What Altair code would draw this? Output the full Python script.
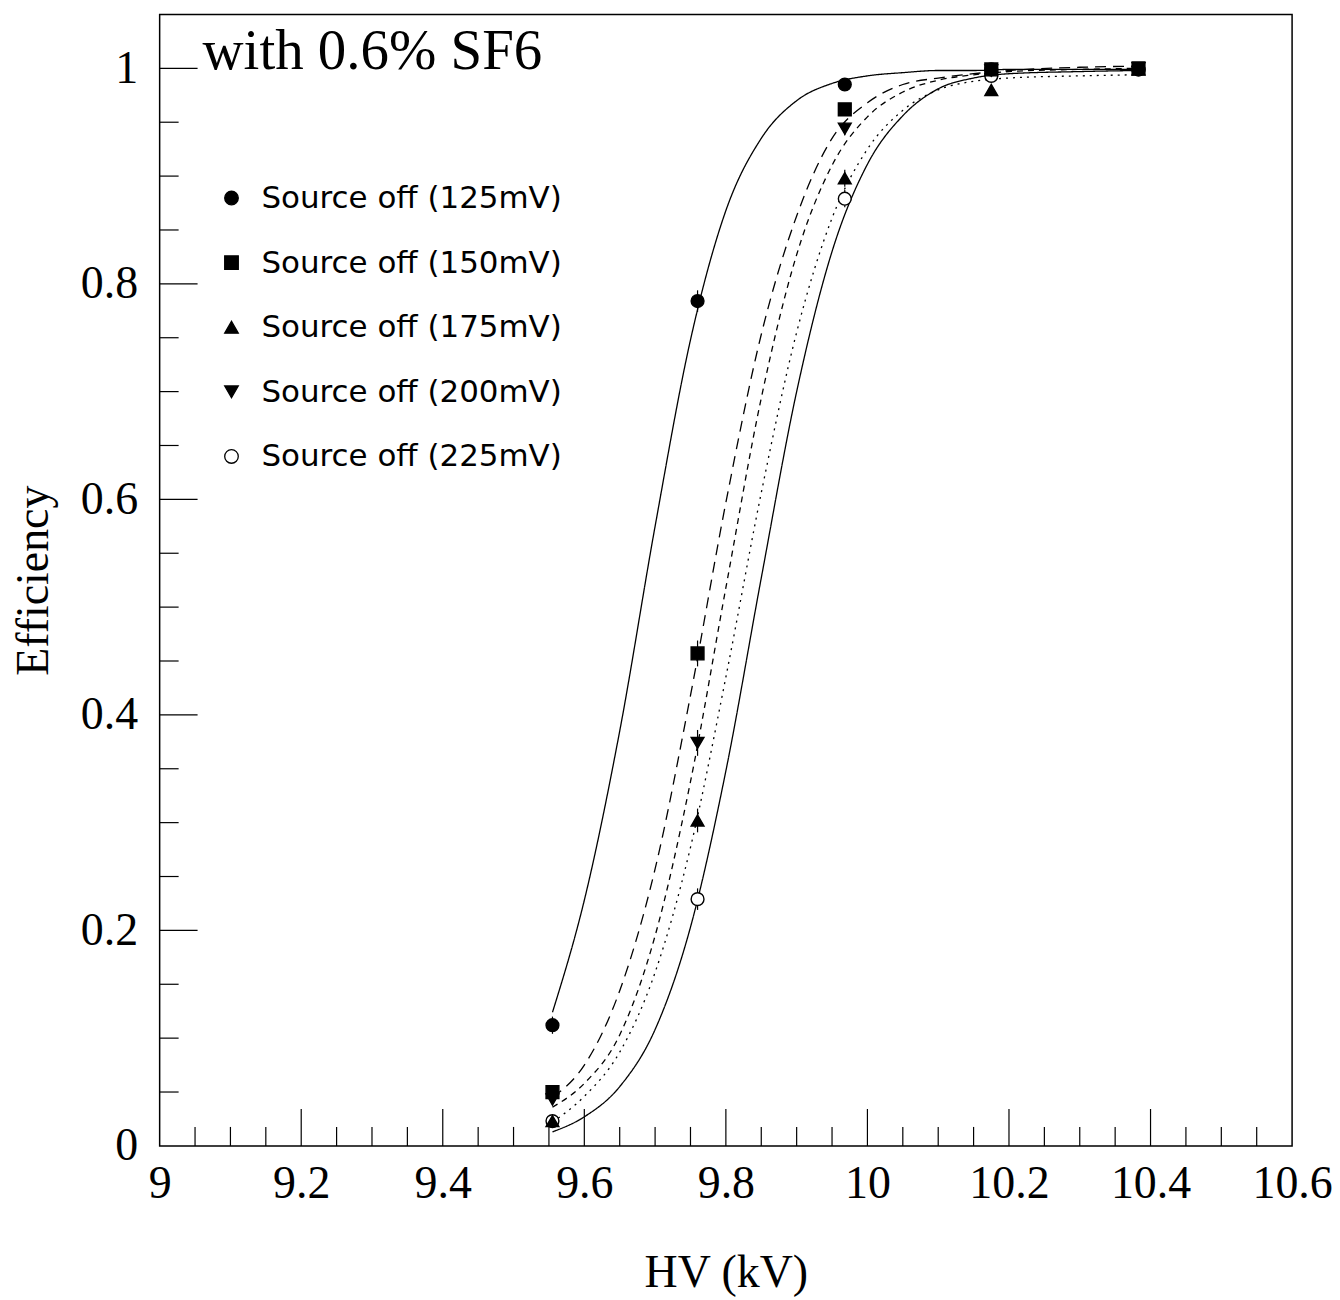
import altair as alt
import pandas as pd

# ---------------- data ----------------
series = ["Source off (125mV)", "Source off (150mV)", "Source off (175mV)",
          "Source off (200mV)", "Source off (225mV)"]

hv = [9.555, 9.76, 9.968, 10.175, 10.383]
eff_125 = [0.112, 0.784, 0.985, 0.999, 0.999]
eff_150 = [0.050, 0.457, 0.962, 0.999, 1.000]
eff_175 = [0.023, 0.302, 0.898, 0.980, 0.999]
eff_200 = [0.043, 0.374, 0.944, 0.998, 1.000]
eff_225 = [0.023, 0.229, 0.879, 0.993, 0.999]
err_125 = [0.008, 0.010, 0.003, 0.001, 0.001]
err_150 = [0.006, 0.012, 0.005, 0.001, 0.001]
err_175 = [0.004, 0.011, 0.008, 0.003, 0.001]
err_200 = [0.005, 0.012, 0.006, 0.001, 0.001]
err_225 = [0.004, 0.010, 0.008, 0.002, 0.001]

fit_hv = [9.555, 9.60, 9.65, 9.70, 9.75, 9.80, 9.85, 9.90, 9.95, 10.00,
          10.05, 10.10, 10.15, 10.20, 10.30, 10.38]
fit_125 = [0.124, 0.228, 0.385, 0.575, 0.748, 0.868, 0.935, 0.970, 0.986, 0.993,
           0.996, 0.998, 0.998, 0.999, 0.999, 0.999]
fit_150 = [0.045, 0.075, 0.144, 0.257, 0.418, 0.597, 0.753, 0.863, 0.935, 0.968,
           0.985, 0.991, 0.995, 0.998, 1.001, 1.002]
fit_175 = [0.022, 0.046, 0.087, 0.161, 0.277, 0.435, 0.606, 0.755, 0.861, 0.925,
           0.961, 0.980, 0.988, 0.991, 0.993, 0.994]
fit_200 = [0.036, 0.058, 0.103, 0.195, 0.338, 0.518, 0.694, 0.827, 0.910, 0.955,
           0.978, 0.989, 0.994, 0.997, 0.999, 1.000]
fit_225 = [0.013, 0.027, 0.055, 0.108, 0.203, 0.348, 0.527, 0.700, 0.830, 0.911,
           0.956, 0.981, 0.991, 0.995, 0.997, 0.998]

x_labels = [9.0, 9.2, 9.4, 9.6, 9.8, 10.0, 10.2, 10.4, 10.6]
y_labels = [0.0, 0.2, 0.4, 0.6, 0.8, 1.0]
x_major = [9.2, 9.4, 9.6, 9.8, 10.0, 10.2, 10.4]
x_minor = [9.05, 9.1, 9.15, 9.25, 9.3, 9.35, 9.45, 9.5, 9.55, 9.65, 9.7, 9.75,
           9.85, 9.9, 9.95, 10.05, 10.1, 10.15, 10.25, 10.3, 10.35, 10.45, 10.5, 10.55]
y_major = [0.2, 0.4, 0.6, 0.8, 1.0]
y_minor = [0.05, 0.1, 0.15, 0.25, 0.3, 0.35, 0.45, 0.5, 0.55, 0.65, 0.7, 0.75,
           0.85, 0.9, 0.95]

annotation = "with 0.6% SF6"

# ---------------- tables ----------------
effs = [eff_125, eff_150, eff_175, eff_200, eff_225]
errs = [err_125, err_150, err_175, err_200, err_225]
fits = [fit_125, fit_150, fit_175, fit_200, fit_225]

# drawing order of markers: open circles first, then the filled ones
draw_order = [4, 0, 1, 2, 3]
pts_rows = []
for k in draw_order:
    s, e_list, r_list = series[k], effs[k], errs[k]
    for x, e, r in zip(hv, e_list, r_list):
        pts_rows.append({"hv": x, "eff": e, "lo": e - r, "hi": e + r, "series": s})
pts = pd.DataFrame(pts_rows)

fit_rows = []
for s, f_list in zip(series, fits):
    for i, (x, e) in enumerate(zip(fit_hv, f_list)):
        fit_rows.append({"hv": x, "eff": e, "curve": s, "order": i})
fitdf = pd.DataFrame(fit_rows)

legdf = pd.DataFrame({"series": series, "row": list(range(len(series)))})

W, H = 1135, 1134
SERIF = "Liberation Serif"
SANS = "DejaVu Sans"

xscale = alt.Scale(domain=[9.0, 10.6], nice=False, zero=False)
yscale = alt.Scale(domain=[0.0, 1.05], nice=False, zero=False)

xaxis = alt.Axis(values=x_labels, format=".1~f", title="HV (kV)", grid=False,
                 domain=False, ticks=False, labelFont=SERIF, labelFontSize=46,
                 labelColor="black", labelPadding=16, labelFlush=False,
                 titleFont=SERIF, titleFontSize=46, titleFontWeight="normal",
                 titleColor="black", titlePadding=44)
yaxis = alt.Axis(values=y_labels, format=".1~f", title="Efficiency", grid=False,
                 domain=False, ticks=False, labelFont=SERIF, labelFontSize=46,
                 labelColor="black", labelPadding=22, labelFlush=False,
                 titleFont=SERIF, titleFontSize=46, titleFontWeight="normal",
                 titleColor="black", titlePadding=23)

X = alt.X("hv:Q", scale=xscale, axis=xaxis)
Y = alt.Y("eff:Q", scale=yscale, axis=yaxis)

shape_enc = alt.Shape("series:N", scale=alt.Scale(
    domain=series,
    range=["circle", "square", "triangle-up", "triangle-down", "circle"]),
    legend=None)
fill_enc = alt.Fill("series:N", scale=alt.Scale(
    domain=series, range=["black", "black", "black", "black", "white"]),
    legend=None)

curves = alt.Chart(fitdf).mark_line(color="black", strokeWidth=1.3,
                                    interpolate="monotone").encode(
    x=X, y=Y,
    detail="curve:N",
    order="order:Q",
    strokeDash=alt.StrokeDash("curve:N", scale=alt.Scale(
        domain=series, range=[[1, 0], [11, 7], [2, 5], [6, 5], [1, 0]]), legend=None),
)

errbars = alt.Chart(pts).mark_rule(color="black", strokeWidth=1.2).encode(
    x="hv:Q", y="lo:Q", y2="hi:Q")

points = alt.Chart(pts).mark_point(size=165, strokeWidth=1.4, opacity=1,
                                   stroke="black").encode(
    x="hv:Q", y="eff:Q", shape=shape_enc, fill=fill_enc)

# in-plot key (legend) in the upper left corner
leg_sym = alt.Chart(legdf).transform_calculate(
    ly="184 + 64.75 * datum.row").mark_point(
    size=185, strokeWidth=1.3, opacity=1, stroke="black").encode(
    x=alt.value(72), y=alt.Y("ly:Q", scale=None), shape=shape_enc, fill=fill_enc)
leg_txt = alt.Chart(legdf).transform_calculate(
    ly="185 + 64.75 * datum.row").mark_text(
    font=SANS, fontSize=31, align="left", baseline="middle", color="black").encode(
    x=alt.value(102), y=alt.Y("ly:Q", scale=None), text="series:N")

xt_major = alt.Chart(pd.DataFrame({"t": x_major})).mark_rule(
    color="black", strokeWidth=1.2).encode(
    x="t:Q", y=alt.value(H), y2=alt.value(H - 37))
xt_minor = alt.Chart(pd.DataFrame({"t": x_minor})).mark_rule(
    color="black", strokeWidth=1.2).encode(
    x="t:Q", y=alt.value(H), y2=alt.value(H - 19))
yt_major = alt.Chart(pd.DataFrame({"t": y_major})).mark_rule(
    color="black", strokeWidth=1.2).encode(
    y="t:Q", x=alt.value(0), x2=alt.value(38))
yt_minor = alt.Chart(pd.DataFrame({"t": y_minor})).mark_rule(
    color="black", strokeWidth=1.2).encode(
    y="t:Q", x=alt.value(0), x2=alt.value(19))

label = alt.Chart(pd.DataFrame({"txt": [annotation]})).mark_text(
    font=SERIF, fontSize=57, align="left", baseline="alphabetic",
    color="black").encode(text="txt:N", x=alt.value(43), y=alt.value(55))

chart = alt.layer(curves, errbars, points, xt_major, xt_minor, yt_major,
                  yt_minor, label, leg_sym, leg_txt).properties(
    width=W, height=H,
    autosize=alt.AutoSizeParams(type="none"),
    padding={"left": 152, "top": 5, "right": 40, "bottom": 165},
    background="white",
).configure_view(stroke="black", strokeWidth=1.5).configure_axis(grid=False)

chart.save("out.html", embed_options={"renderer": "svg", "actions": False})
